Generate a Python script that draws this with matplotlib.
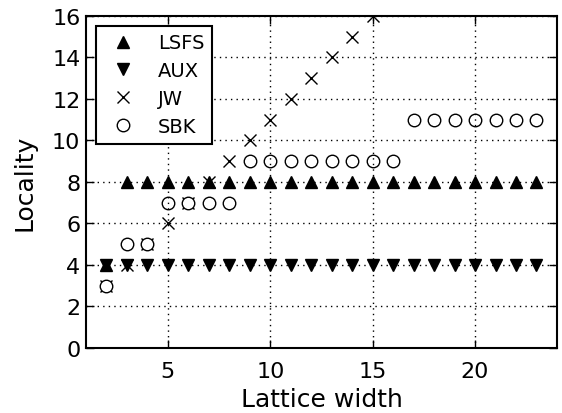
import numpy as np
import matplotlib
matplotlib.use('Agg')
from matplotlib import pyplot as plt

# data
lsfs_x = [2] + list(range(3, 24))
lsfs_y = [4] + [8] * 21
aux_x = list(range(2, 24))
aux_y = [4] * 22
jw_x = list(range(2, 16))
jw_y = [3, 4, 5, 6, 7, 8, 9, 10, 11, 12, 13, 14, 15, 16]
sbk_x = list(range(2, 24))
sbk_y = [3, 5, 5, 7, 7, 7, 7, 9, 9, 9, 9, 9, 9, 9, 9, 11, 11, 11, 11, 11, 11, 11]


def get_plot():
    fig = plt.figure(figsize=(5.62, 4.14), dpi=100)
    ax = fig.add_axes((0.153, 0.157, 0.838, 0.802))
    ms = 9
    ax.plot(lsfs_x, lsfs_y, linestyle='none', marker='^', ms=ms,
            color='k', label='LSFS')
    ax.plot(aux_x, aux_y, linestyle='none', marker='v', ms=ms,
            color='k', label='AUX')
    ax.plot(jw_x, jw_y, linestyle='none', marker='x', ms=ms, mew=1,
            color='k', label='JW')
    ax.plot(sbk_x, sbk_y, linestyle='none', marker='o', ms=ms, mew=1,
            mfc='w', mec='k', label='SBK')

    ax.set_xlim(1, 24)
    ax.set_ylim(0, 16)
    ax.set_xticks([5, 10, 15, 20])
    ax.set_yticks(np.arange(0, 17, 2))
    ax.set_axisbelow(False)
    ax.grid(True, linestyle=(0, (1, 3)), color='k', linewidth=1)
    ax.tick_params(direction='in', length=6, width=1, top=True, right=True,
                   labelsize=16)
    ax.tick_params(axis='x', pad=9)
    ax.tick_params(axis='y', pad=4)
    for sp in ax.spines.values():
        sp.set_linewidth(1.5)
    ax.set_xlabel('Lattice width', fontsize=18, labelpad=5)
    ax.set_ylabel('Locality', fontsize=18, labelpad=11)

    leg = ax.legend(loc='upper left', numpoints=1, fontsize=14,
                    fancybox=False, framealpha=1, borderaxespad=0.5,
                    handletextpad=0.8, labelspacing=0.45)
    leg.get_frame().set_edgecolor('k')
    leg.get_frame().set_linewidth(1.5)
    fig.savefig('out.png', dpi=100)


if __name__ == '__main__':
    get_plot()
